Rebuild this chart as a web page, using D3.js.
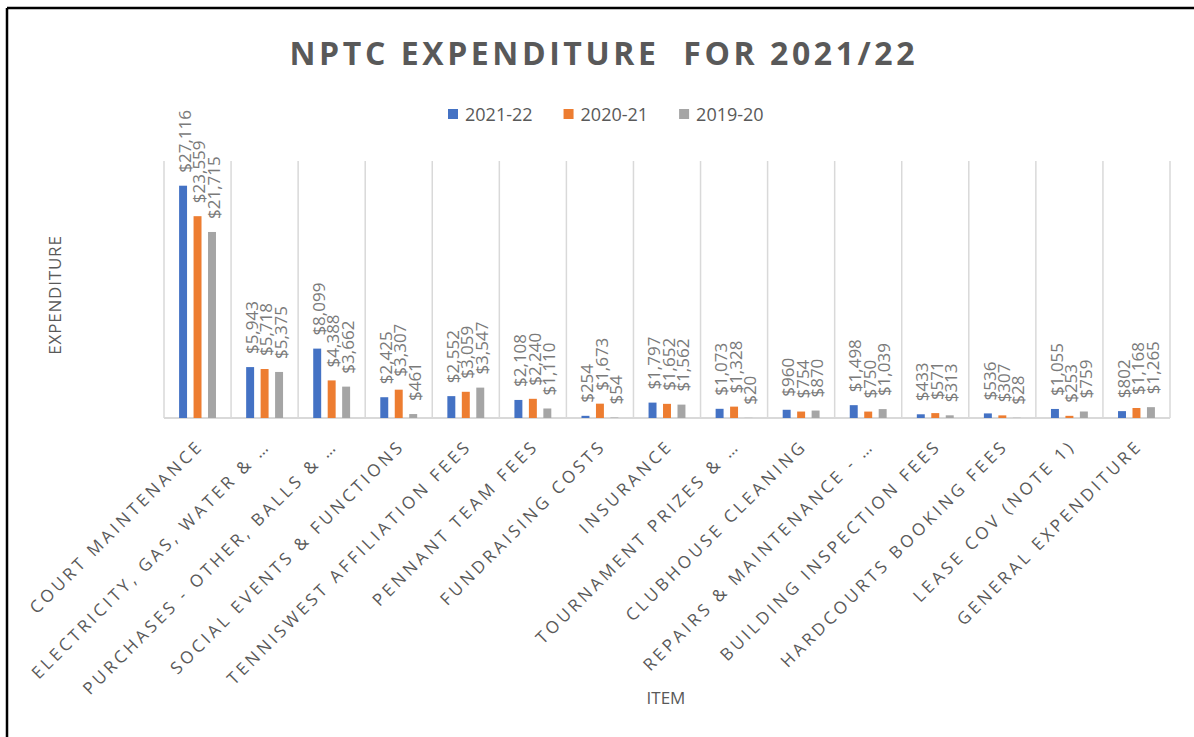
<!DOCTYPE html>
<html>
<head>
<meta charset="utf-8">
<script src="https://cdn.jsdelivr.net/npm/d3@7"></script>
<style>
  body { margin: 0; background: #fff; }
  svg { display: block; font-family: "Open Sans", sans-serif; }
</style>
</head>
<body>
<div id="chart"></div>
<script>
// chart data
const categories = [
  "COURT MAINTENANCE",
  "ELECTRICITY, GAS, WATER & …",
  "PURCHASES - OTHER, BALLS & …",
  "SOCIAL EVENTS & FUNCTIONS",
  "TENNISWEST AFFILIATION FEES",
  "PENNANT TEAM FEES",
  "FUNDRAISING COSTS",
  "INSURANCE",
  "TOURNAMENT PRIZES & …",
  "CLUBHOUSE CLEANING",
  "REPAIRS & MAINTENANCE - …",
  "BUILDING INSPECTION FEES",
  "HARDCOURTS BOOKING FEES",
  "LEASE COV (NOTE 1)",
  "GENERAL EXPENDITURE"
];
const seriesNames = ["2021-22", "2020-21", "2019-20"];
const values2122 = [27116, 5943, 8099, 2425, 2552, 2108, 254, 1797, 1073, 960, 1498, 433, 536, 1055, 802];
const values2021 = [23559, 5718, 4388, 3307, 3059, 2240, 1673, 1652, 1328, 754, 750, 571, 307, 253, 1168];
const values1920 = [21715, 5375, 3662, 461, 3547, 1110, 54, 1562, 20, 870, 1039, 313, 28, 759, 1265];
const yMax = 30000;

const colors = ["#4472C4", "#ED7D31", "#A5A5A5"];
const W = 1194, H = 737;
const plot = { left: 164, right: 1170, top: 161, bottom: 418 };

const series = [values2122, values2021, values1920];

const svg = d3.select("#chart").append("svg")
  .attr("width", W)
  .attr("height", H);

// frame (only top and left edges visible)
svg.append("line").attr("x1", 7).attr("y1", 8).attr("x2", W).attr("y2", 8)
  .style("stroke", "#000").style("stroke-width", 2.5);
svg.append("line").attr("x1", 7).attr("y1", 8).attr("x2", 7).attr("y2", H)
  .style("stroke", "#000").style("stroke-width", 2.5);

const x0 = d3.scaleBand()
  .domain(categories)
  .range([plot.left, plot.right])
  .padding(0);

const bw = x0.bandwidth();
const x1 = d3.scaleBand()
  .domain(seriesNames)
  .range([bw * 0.225, bw * 0.775])
  .paddingInner(0.45)
  .paddingOuter(0);

const y = d3.scaleLinear()
  .domain([0, yMax])
  .range([plot.bottom, plot.top]);

// vertical gridlines between categories
const edges = categories.map(c => x0(c)).concat([plot.right]);
svg.append("g").selectAll("line")
  .data(edges)
  .join("line")
  .attr("x1", d => d).attr("x2", d => d)
  .attr("y1", plot.top).attr("y2", plot.bottom)
  .style("stroke", "#d9d9d9")
  .style("stroke-width", 1.5);

// baseline
svg.append("line")
  .attr("x1", plot.left).attr("x2", plot.right)
  .attr("y1", plot.bottom).attr("y2", plot.bottom)
  .style("stroke", "#d9d9d9")
  .style("stroke-width", 2);

// bars
const groups = svg.append("g").selectAll("g")
  .data(categories)
  .join("g")
  .attr("transform", d => `translate(${x0(d)},0)`);

groups.selectAll("rect")
  .data((c, i) => seriesNames.map((s, j) => ({ s, j, v: series[j][i] })))
  .join("rect")
  .attr("x", d => x1(d.s))
  .attr("y", d => y(d.v))
  .attr("width", x1.bandwidth())
  .attr("height", d => plot.bottom - y(d.v))
  .style("fill", d => colors[d.j]);

// data labels, rotated
const fmt = d3.format(",");
groups.selectAll("text.val")
  .data((c, i) => seriesNames.map((s, j) => ({ s, j, v: series[j][i] })))
  .join("text")
  .attr("class", "val")
  .attr("transform", d => `translate(${x1(d.s) + x1.bandwidth() / 2},${y(d.v) - 13}) rotate(-90)`)
  .attr("dy", "0.45em")
  .attr("text-anchor", "start")
  .attr("font-size", "17px")
  .attr("fill", "#7a7a7a")
  .text(d => "$" + fmt(d.v));

// category labels at -45
svg.append("g").selectAll("text")
  .data(categories)
  .join("text")
  .attr("transform", d => `translate(${x0(d) + bw / 2 + 7},447) rotate(-45)`)
  .attr("text-anchor", "end")
  .attr("font-size", "17px")
  .attr("letter-spacing", "3.4px")
  .attr("fill", "#595959")
  .text(d => d);

// title
svg.append("text")
  .attr("x", 602)
  .attr("y", 65)
  .attr("text-anchor", "middle")
  .attr("font-size", "32px")
  .attr("font-weight", "bold")
  .attr("fill", "#595959")
  .attr("textLength", 625)
  .attr("lengthAdjust", "spacing")
  .style("white-space", "pre")
  .text("NPTC EXPENDITURE  FOR 2021/22");

// legend
const legend = svg.append("g");
let lx = 448;
seriesNames.forEach((name, i) => {
  legend.append("rect")
    .attr("x", lx).attr("y", 109)
    .attr("width", 10).attr("height", 10)
    .style("fill", colors[i]);
  const t = legend.append("text")
    .attr("x", lx + 17).attr("y", 121)
    .attr("font-size", "18px")
    .attr("fill", "#595959")
    .text(name);
  lx += 17 + t.node().getComputedTextLength() + 31;
});

// axis titles
svg.append("text")
  .attr("transform", "translate(61,295) rotate(-90)")
  .attr("text-anchor", "middle")
  .attr("font-size", "17px")
  .attr("letter-spacing", "0.8px")
  .attr("fill", "#595959")
  .text("EXPENDITURE");

svg.append("text")
  .attr("x", 666)
  .attr("y", 704)
  .attr("text-anchor", "middle")
  .attr("font-size", "17px")
  .attr("fill", "#595959")
  .text("ITEM");
</script>
</body>
</html>
